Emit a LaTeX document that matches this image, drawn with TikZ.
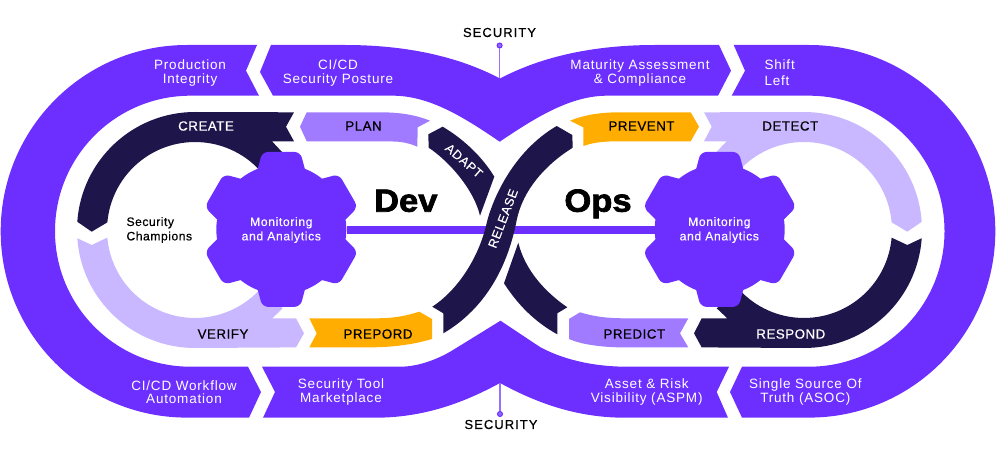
\documentclass[tikz,border=0pt]{standalone}
\usepackage{fontspec}
\setmainfont{Liberation Sans}
\newfontfamily\regf[LetterSpace=6]{Liberation Sans}
\newfontfamily\medf[FakeBold=0.55,LetterSpace=4]{Liberation Sans}
\newfontfamily\lblf[FakeBold=0.3,LetterSpace=5]{Liberation Sans}
\newfontfamily\secf[FakeBold=0.5,LetterSpace=8]{Liberation Sans}
\newfontfamily\heavyf[FakeBold=2.2,FakeStretch=1.08]{Liberation Sans Bold}
\definecolor{brand}{HTML}{6C2FFF}
\definecolor{navy}{HTML}{1E154B}
\definecolor{lav}{HTML}{C9B8FF}
\definecolor{mid}{HTML}{A07BFF}
\definecolor{gold}{HTML}{FFAD00}
\tikzset{
  band/.style={fill=brand},
  dark/.style={fill=navy},
  pale/.style={fill=lav},
  medium/.style={fill=mid},
  amber/.style={fill=gold},
  bandlabel/.style={text=white,align=center,inner sep=0pt,font=\regf\fontsize{13.5}{13.4}\selectfont},
  tag/.style={inner sep=0pt,font=\medf\fontsize{13.3}{14}\selectfont},
  seclabel/.style={inner sep=0pt,font=\secf\fontsize{13}{14}\selectfont},
  gearlabel/.style={text=white,align=center,inner sep=0pt,font=\lblf\fontsize{12.2}{14.4}\selectfont},
  gearbody/.style={circle,fill=brand,minimum size=130pt,inner sep=0pt},
  bigword/.style={inner sep=0pt,anchor=base,font=\heavyf\fontsize{32}{32}\selectfont},
  pinline/.style={line width=1.5pt,draw=mid!85!brand},
  pindot/.style={circle,draw=brand,fill=mid!70!brand,line width=1pt,minimum size=5pt,inner sep=0pt},
}
\newcommand{\geartooth}[3]{%
  \fill[brand,rounded corners=6pt,shift={(#1,#2)},rotate=#3]
    (-25,-55) -- (-19,-77.5) -- (19,-77.5) -- (25,-55) -- (0,-20) -- cycle;}
\begin{document}
\begin{tikzpicture}[x=1pt,y=-1pt]
\useasboundingbox (0,0) rectangle (1000,457);

% outer band
\path[band] (257,45) -- (187,45)
  arc[start angle=270,end angle=90,radius=186.3] -- (249,417.7)
  -- (261,392) -- (248,366.7) -- (190.5,366.7)
  arc[start angle=90,end angle=270,radius=135.5] -- (259,95.7) -- (246,70.7) -- cycle;
\path[band] (733.7,45) -- (809,45)
  arc[start angle=-90,end angle=90,radius=186.3] -- (742,417.7)
  -- (730,392) -- (742,366.7) -- (809,366.7)
  arc[start angle=90,end angle=-90,radius=135.5] -- (731.7,95.7) -- (745,70.7) -- cycle;
\path[band] (271,45) -- (345,45) .. controls (415,45) and (465,60) .. (500,78.5)
  .. controls (535,60) and (585,45) .. (655,45) -- (719,45) -- (731,70.7) -- (718,95.7)
  -- (607,95.7) .. controls (570,95.7) and (535,118) .. (499.7,141.7)
  .. controls (465,118) and (430,95.7) .. (393,95.7) -- (273,95.7) -- (260,72) -- cycle;
\path[band] (262,366.7) -- (400,366.7) .. controls (420,366.7) and (440,358) .. (453,350)
  -- (500.5,320.7) -- (540,347) .. controls (560,358) and (590,366.7) .. (627,366.7)
  -- (729,366.7) -- (716.7,392) -- (728,417.7) -- (625,417.7)
  .. controls (575,417.7) and (535,402) .. (500,383)
  .. controls (465,402) and (425,417.7) .. (375,417.7)
  -- (263,417.7) -- (275,392) -- cycle;

% ring pieces, left loop
\path[dark] (195,230) ++(184:118) arc[start angle=184,end angle=270,radius=118]
  -- (294,112.3) -- (286,126.7) -- (294,141.3) -- (272,141.3) -- (282,152) -- (259.4,170)
  arc[start angle=-43,end angle=-175,radius=88] -- (91.7,231.7) -- cycle;
\path[pale] (195,230) ++(176:118) arc[start angle=176,end angle=90,radius=118]
  -- (296,347.4) -- (304,333.3) -- (296,318.3) -- (272.3,318.3) -- (282.7,308.3) -- (261.4,287.7)
  arc[start angle=41,end angle=175,radius=88] -- (91.7,245) -- cycle;
\path[medium] (300,126.7) -- (306.7,112.3) -- (380,112.3) .. controls (400,112.3) and (416,115) .. (430,120.7)
  -- (417.7,127.3) -- (417.3,146.7) .. controls (410,143.5) and (402,141.5) .. (393,141.5)
  -- (306.7,141.3) -- cycle;
\path[amber] (309.3,318.3) -- (375,318.3) .. controls (395,318.3) and (405,316) .. (419.3,311.7)
  -- (432,319) -- (432,339) .. controls (412,345) and (390,347.4) .. (366.7,347.4)
  -- (309.3,347.4) -- (316.7,333.3) -- cycle;
\path[dark] (442.7,126.7) .. controls (465,140) and (483,158) .. (494.3,176.7)
  -- (480,215.7) .. controls (474,190) and (450,162) .. (428.7,147.7) -- (428.3,134.3) -- cycle;

% ring pieces, right loop
\path[pale] (804,230) ++(-4:118) arc[start angle=-4,end angle=-90,radius=118]
  -- (704,112.3) -- (711.7,126.7) -- (704,141.3) -- (726.7,141.3) -- (716.7,151.7) -- (739.6,170)
  arc[start angle=223,end angle=355,radius=88] -- (907.3,231.7) -- cycle;
\path[dark] (804,230) ++(4:118) arc[start angle=4,end angle=90,radius=118]
  -- (701.7,347.4) -- (694,333.3) -- (701.7,318.3) -- (727.3,318.3) -- (716.7,308.3) -- (739.6,290)
  arc[start angle=137,end angle=5,radius=88] -- (907.3,245) -- cycle;
\path[amber] (570,120.7) .. controls (584,115) and (600,112.3) .. (620,112.3)
  -- (690.7,112.3) -- (699,126.7) -- (690.7,141.3) -- (620,141.3)
  .. controls (600,141.3) and (592,143) .. (583.3,146) -- (583.3,127.3) -- cycle;
\path[medium] (569,319) -- (580,312.3) .. controls (592,316) and (605,318.3) .. (625,318.3)
  -- (688.3,318.3) -- (680,333.3) -- (688.3,347.4) -- (625,347.4)
  .. controls (600,347.4) and (580,344) .. (569,339) -- cycle;
\path[dark] (518.3,242.7) .. controls (525,270) and (545,292) .. (567.3,307.3)
  -- (557.3,313.3) -- (557.3,334.3) .. controls (535,322) and (518,305) .. (504,283.3) -- cycle;

% gears and their link
\foreach \a in {0,60,...,300} {\geartooth{281.3}{229.4}{\a}\geartooth{719.7}{229.4}{\a}}
\node[gearbody] (gearL) at (281.3,229.4) {};
\node[gearbody] (gearR) at (719.7,229.4) {};
\draw[brand,line width=8pt] (gearL.east |- 0,230) -- (gearR.west |- 0,230);

% release
\path[dark] (556.7,126) -- (572.3,135) -- (572.7,147.7)
  .. controls (545,165) and (523,190) .. (516.7,220)
  .. controls (511,250) and (495,303) .. (443.3,333.3)
  -- (443.3,313.3) -- (432.3,306.7)
  .. controls (455,292) and (477,262) .. (486,226)
  .. controls (491,202) and (512,152) .. (556.7,126) -- cycle;

% security pins
\coordinate (cuspT) at (499.6,78.5);
\coordinate (cuspB) at (500,383);
\node[pindot] (dotT) at (499.6,45.5) {};
\node[pindot] (dotB) at (500,414) {};
\draw[pinline] (dotT) -- (cuspT);
\draw[pinline] (dotB) -- (cuspB);
\node[seclabel] (secT) at (499.5,32.5) {SECURITY};
\node[seclabel] (secB) at (501,424.5) {SECURITY};

% band labels
\node[bandlabel] (l1) at (190,73) {Production\\Integrity};
\node[bandlabel] (l2) at (338,73) {CI/CD\\Security Posture};
\node[bandlabel] (l3) at (640,73) {Maturity Assessment\\\& Compliance};
\node[bandlabel,align=left,font=\regf\fontsize{13.5}{16}\selectfont,anchor=west] (l4) at (764.3,73) {Shift\\Left};
\node[bandlabel] (l5) at (184,392) {CI/CD Workflow\\Automation};
\node[bandlabel] (l6) at (341,392) {Security Tool\\Marketplace};
\node[bandlabel] (l7) at (646.7,392) {Asset \& Risk\\Visibility (ASPM)};
\node[bandlabel] (l8) at (805.3,392) {Single Source Of\\Truth (ASOC)};

% ring labels
\node[tag,text=white] (t1) at (206,126) {CREATE};
\node[tag] (t2) at (363.5,126) {PLAN};
\node[tag] (t3) at (223,334) {VERIFY};
\node[tag] (t4) at (378,334) {PREPORD};
\node[tag] (t5) at (641.5,126) {PREVENT};
\node[tag] (t6) at (790.3,126) {DETECT};
\node[tag] (t7) at (634.3,334) {PREDICT};
\node[tag,text=white] (t8) at (790.8,334) {RESPOND};
\node[text=white,inner sep=0pt,font=\lblf\fontsize{12.6}{14}\selectfont,rotate=-41] (t9) at (464,160.7) {ADAPT};
\node[text=white,inner sep=0pt,font=\lblf\fontsize{12.6}{14}\selectfont,rotate=69] (t10) at (503,218.5) {RELEASE};

% gear labels and words
\node[gearlabel] (monL) at (281.3,230) {Monitoring\\and Analytics};
\node[gearlabel] (monR) at (719.3,230) {Monitoring\\and Analytics};
\node[gearlabel,text=black,align=left,anchor=west,font=\medf\fontsize{12.2}{14.4}\selectfont] (champ) at (126.3,230) {Security\\Champions};
\node[bigword] (dev) at (405.8,211.7) {Dev};
\node[bigword] (ops) at (598,211.7) {Ops};
\end{tikzpicture}
\end{document}
